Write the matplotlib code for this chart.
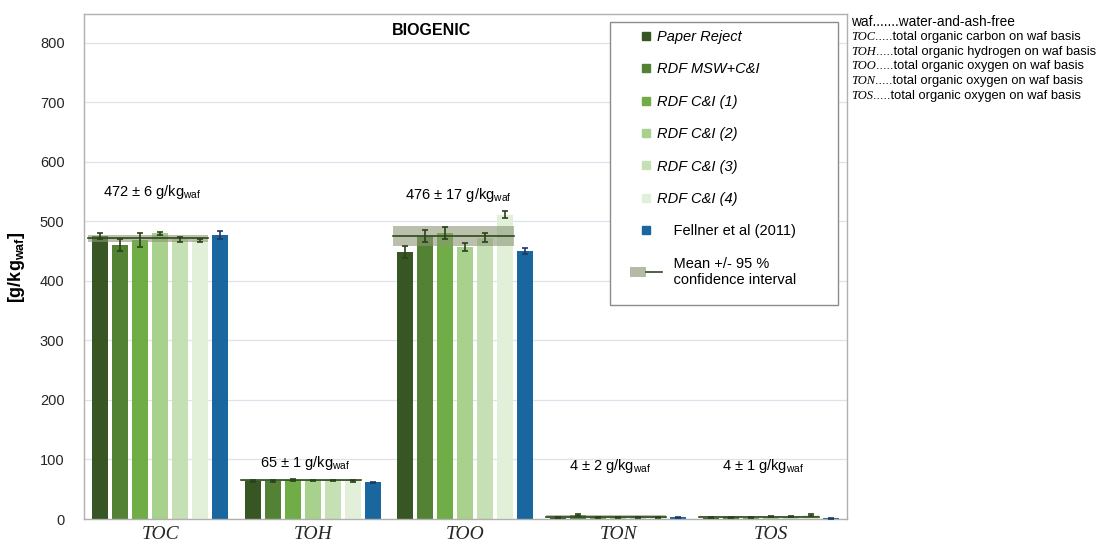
import numpy as np
import matplotlib
matplotlib.use("Agg")
import matplotlib.pyplot as plt
from matplotlib.lines import Line2D
from matplotlib.patches import Patch, Rectangle
from matplotlib.legend_handler import HandlerTuple

plt.rcParams['font.family'] = ['Liberation Sans', 'DejaVu Sans']
plt.rcParams['mathtext.fontset'] = 'custom'
plt.rcParams['mathtext.rm'] = 'Liberation Sans'
plt.rcParams['mathtext.it'] = 'Liberation Sans:italic'
plt.rcParams['mathtext.bf'] = 'Liberation Sans:bold'

# data
categories = ['TOC', 'TOH', 'TOO', 'TON', 'TOS']
series = ['Paper Reject', 'RDF MSW+C&I', 'RDF C&I (1)', 'RDF C&I (2)',
          'RDF C&I (3)', 'RDF C&I (4)', 'Fellner et al (2011)']
colors = ['#375623', '#548235', '#70ad47', '#a9d18e', '#c5e0b4', '#e2f0d9', '#19679e']
err_colors = ['#2a4119'] * 6 + ['#1f3864']

values = [
    [475, 64, 449, 2, 2],   # Paper Reject
    [461, 64, 476, 7, 3],   # RDF MSW+C&I
    [469, 66, 480, 3, 2],   # RDF C&I (1)
    [480, 65, 457, 3, 4],   # RDF C&I (2)
    [470, 65, 473, 3, 4],   # RDF C&I (3)
    [468, 64, 511, 3, 7],   # RDF C&I (4)
    [477, 62, 451, 3, 1],   # Fellner et al (2011)
]
errors = [
    [5, 1, 10, 1, 1],
    [10, 1, 10, 2, 1],
    [12, 2, 10, 1, 1],
    [3, 1, 7, 1, 1],
    [4, 1, 7, 1, 1],
    [2, 1, 6, 1, 2],
    [7, 1, 5, 1, 1],
]
means = [472, 65, 476, 4, 4]
ci = [6, 1, 17, 2, 1]
mean_labels = ['472 $\\pm$ 6 g/kg$_{\\mathrm{waf}}$', '65 $\\pm$ 1 g/kg$_{\\mathrm{waf}}$',
               '476 $\\pm$ 17 g/kg$_{\\mathrm{waf}}$', '4 $\\pm$ 2 g/kg$_{\\mathrm{waf}}$',
               '4 $\\pm$ 1 g/kg$_{\\mathrm{waf}}$']
label_y = [550, 94, 545, 89, 89]

W, H = 1109, 545
fig = plt.figure(figsize=(W / 100, H / 100), dpi=100)
ax = fig.add_axes([0.0757, 0.0477, 0.688, 0.926])

x = np.arange(len(categories))
step = 0.131
width = 0.105
for j, name in enumerate(series):
    pos = x + (j - 3) * step
    ax.bar(pos, values[j], width, color=colors[j], zorder=2)
    ax.errorbar(pos, values[j], yerr=errors[j], fmt='none', ecolor=err_colors[j],
                elinewidth=1.2, capsize=2, capthick=1.2, zorder=4)

# mean +/- 95 % band over the six samples
for i in range(len(categories)):
    left = x[i] - 0.472
    right = x[i] + 0.315
    ax.fill_between([left, right], means[i] - ci[i], means[i] + ci[i],
                    color='#8c9676', alpha=0.6, lw=0, zorder=3)
    ax.plot([left, right], [means[i], means[i]], color='#2e4a1c', lw=1.2, zorder=3)
    ax.text(x[i] - 0.05, label_y[i], mean_labels[i], ha='center', va='center', fontsize=10.5)

ax.set_xlim(-0.5, 4.5)
ax.set_ylim(0, 848)
ax.set_yticks(range(0, 900, 100))
ax.set_xticks(x)
ax.set_xticklabels(categories, family='Liberation Serif', style='italic')
ax.tick_params(axis='both', length=0, colors='#262626')
ax.tick_params(axis='x', labelsize=14, pad=5)
ax.tick_params(axis='y', labelsize=10.5, pad=14)
ax.grid(axis='y', color='#dde3ea', lw=0.9, zorder=0)
ax.set_axisbelow(True)
for s in ax.spines.values():
    s.set_color('#b0b0b0')
    s.set_linewidth(1.0)
ax.set_ylabel('[g/kg$_{\\mathbf{waf}}$]', fontsize=13, fontweight='bold')
ax.yaxis.set_label_coords((27 - 84) / 763, (519 - 267) / 505)
ax.text(0.456, 0.968, 'BIOGENIC', transform=ax.transAxes, ha='center', va='center',
        fontsize=11.5, fontweight='bold')

# legend box drawn by hand so the padding can differ per side
fig.patches.append(Rectangle((610 / W, 1 - 305 / H), 228 / W, 283 / H, transform=fig.transFigure,
                             facecolor='white', edgecolor='#8c8c8c', lw=1.0, zorder=5))
handles = [Line2D([], [], ls='none', marker='s', markersize=6, color=c) for c in colors]
band = (Patch(facecolor='#b4baa6', edgecolor='none'),
        Line2D([], [], color='#2e4a1c', lw=1.2))
labels = series[:6] + ['    Fellner et al (2011)',
                       '    Mean +/- 95 %\n    confidence interval']
leg = fig.legend(handles + [band], labels, loc='upper left',
                 bbox_to_anchor=(630 / W, 1 - 30 / H),
                 handler_map={tuple: HandlerTuple(ndivide=None, pad=0)},
                 fontsize=10.5, labelspacing=1.26, handlelength=2.2, handletextpad=-0.35,
                 borderpad=0, borderaxespad=0, frameon=False)
leg.set_zorder(6)
for t in leg.get_texts()[:6]:
    t.set_fontstyle('italic')

# abbreviation notes at the right
notes = [('', 'waf.......water-and-ash-free'),
         ('TOC', '.....total organic carbon on waf basis'),
         ('TOH', '.....total organic hydrogen on waf basis'),
         ('TOO', '.....total organic oxygen on waf basis'),
         ('TON', '.....total organic oxygen on waf basis'),
         ('TOS', '.....total organic oxygen on waf basis')]
renderer = fig.canvas.get_renderer()
for k, (abbr, rest) in enumerate(notes):
    yf = 1 - (22 + k * 14.8) / H
    xf = 851 / W
    if abbr:
        t = fig.text(xf, yf, abbr, family='Liberation Serif', style='italic',
                     fontsize=9, va='center', ha='left')
        xf = t.get_window_extent(renderer).x1 / W
        fig.text(xf, yf, rest, fontsize=9.3, va='center', ha='left')
    else:
        fig.text(xf, yf, rest, fontsize=9.8, va='center', ha='left')

fig.savefig('out.png', dpi=100)
